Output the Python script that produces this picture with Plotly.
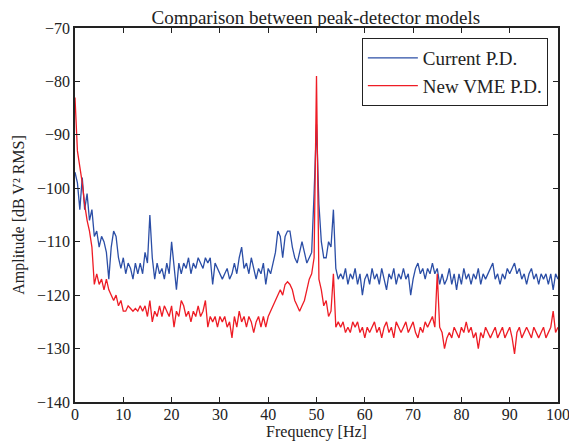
import numpy as np
import plotly.graph_objects as go

freq = np.arange(0, 100.5, 0.5)

current_pd = [
    -97, -99, -104, -98, -104, -101, -106, -104, -109, -108,
    -111, -109, -110, -112, -117, -111, -108, -109, -113, -115,
    -113, -116, -114, -115, -117, -114, -116, -114, -116, -112,
    -114, -105, -113, -117, -114, -116, -115, -117, -114, -116,
    -110, -115, -119, -114, -116, -114, -115, -113, -116, -114,
    -115, -113, -114, -115, -113, -114, -113, -118, -114, -115,
    -116, -117, -116, -115, -117, -116, -114, -116, -113, -111,
    -115, -114, -116, -113, -115, -117, -115, -116, -114, -118,
    -115, -116, -114, -112, -108, -109, -113, -109, -108, -108,
    -111, -113, -114, -112, -110, -112, -114, -113, -112, -101,
    -88, -103, -110, -113, -113, -110, -111, -104, -115, -117,
    -116, -117, -115, -118, -116, -117, -115, -118, -116, -120,
    -117, -116, -118, -115, -117, -116, -118, -115, -117, -119,
    -116, -117, -115, -118, -116, -117, -115, -117, -116, -120,
    -117, -115, -114, -116, -115, -117, -115, -116, -114, -116,
    -115, -118, -116, -118, -117, -115, -118, -116, -119, -116,
    -118, -115, -117, -116, -118, -116, -117, -115, -118, -116,
    -117, -116, -115, -114, -117, -116, -118, -116, -117, -115,
    -116, -115, -114, -116, -115, -117, -116, -118, -116, -115,
    -117, -116, -118, -116, -117, -116, -118, -116, -119, -116,
    -117,
]

new_vme_pd = [
    -83, -93, -96, -99, -103, -106, -108, -111, -118, -116,
    -118, -117, -119, -117, -119, -120, -121, -120, -122, -121,
    -123, -123, -122, -122.5, -123, -122.5, -123, -122, -123, -122,
    -124, -121, -125, -123, -124, -122, -124, -122, -123, -124,
    -122, -126, -123, -124, -121, -122, -124, -123, -125, -123,
    -124, -122, -124, -123, -121, -126, -124, -125, -124, -126,
    -124, -125, -124, -126, -125, -128, -124, -126, -123, -125,
    -124, -126, -124, -125, -127, -125, -124, -126, -124, -126,
    -124, -123, -122, -121, -120, -119, -120, -118, -117.5, -118,
    -119, -121, -122, -123, -122, -121, -119, -117, -116, -113,
    -79, -117, -119, -122, -121, -124, -123, -116, -126, -125,
    -126, -125, -127, -126, -127, -125, -126, -125, -127, -126,
    -128, -126, -127, -126, -125, -127, -126, -128, -126, -125,
    -127, -126, -128, -125, -126, -127, -126, -125, -127, -126,
    -125, -127, -128, -126, -127, -125, -126, -125, -124, -126,
    -116, -126, -127, -130, -128, -127, -128, -126, -127, -128,
    -126, -127, -125, -127, -126, -128, -127, -130, -127, -128,
    -126, -127, -128, -127, -126, -128, -127, -126, -128, -127,
    -126, -128, -131, -127, -126, -128, -127, -126, -127, -128,
    -126, -127, -128, -127, -126, -128, -127, -126, -123, -127,
    -126,
]

series_names = ["Current P.D.", "New VME P.D."]
series_colors = ["#2b4ea6", "#ee1c25"]

x_ticks = list(range(0, 101, 10))
y_ticks = list(range(-140, -69, 10))

font_family = "Liberation Serif, Times New Roman, serif"

fig = go.Figure()
for name, vals, col in zip(series_names, [current_pd, new_vme_pd], series_colors):
    fig.add_trace(go.Scatter(
        x=freq, y=vals, mode="lines", name=name,
        line=dict(color=col, width=1.3),
    ))

axis_common = dict(
    showgrid=False, zeroline=False, showline=True, linecolor="#222222",
    linewidth=1.5, mirror="ticks", ticks="inside", ticklen=5,
    tickwidth=1, tickcolor="#222222", automargin=False,
    tickfont=dict(family=font_family, size=16, color="#222222"),
)

fig.update_layout(
    width=569, height=435,
    margin=dict(l=67, r=19, t=20, b=41, autoexpand=False),
    paper_bgcolor="white", plot_bgcolor="white",
    font=dict(family=font_family, color="#222222"),
    title=dict(text="Comparison between peak-detector models",
               x=0.541, xanchor="center", y=0.979, yanchor="middle",
               font=dict(family=font_family, size=19, color="#222222")),
    xaxis=dict(range=[0, 100], tickvals=x_ticks, ticklabelstandoff=-3,
               title=dict(text="Frequency [Hz]", standoff=2,
                          font=dict(family=font_family, size=16)),
               **axis_common),
    yaxis=dict(range=[-140, -70], tickvals=y_ticks,
               tickformat="d",
               title=dict(text="Amplitude [dB V² RMS]", standoff=8,
                          font=dict(family=font_family, size=16)),
               **axis_common),
    legend=dict(x=0.979, y=0.973, xanchor="right", yanchor="top",
                bgcolor="white", bordercolor="#222222", borderwidth=1,
                font=dict(family=font_family, size=19, color="#222222"),
                itemwidth=50, tracegroupgap=2),
    showlegend=True,
)

fig.write_html("out.html")
